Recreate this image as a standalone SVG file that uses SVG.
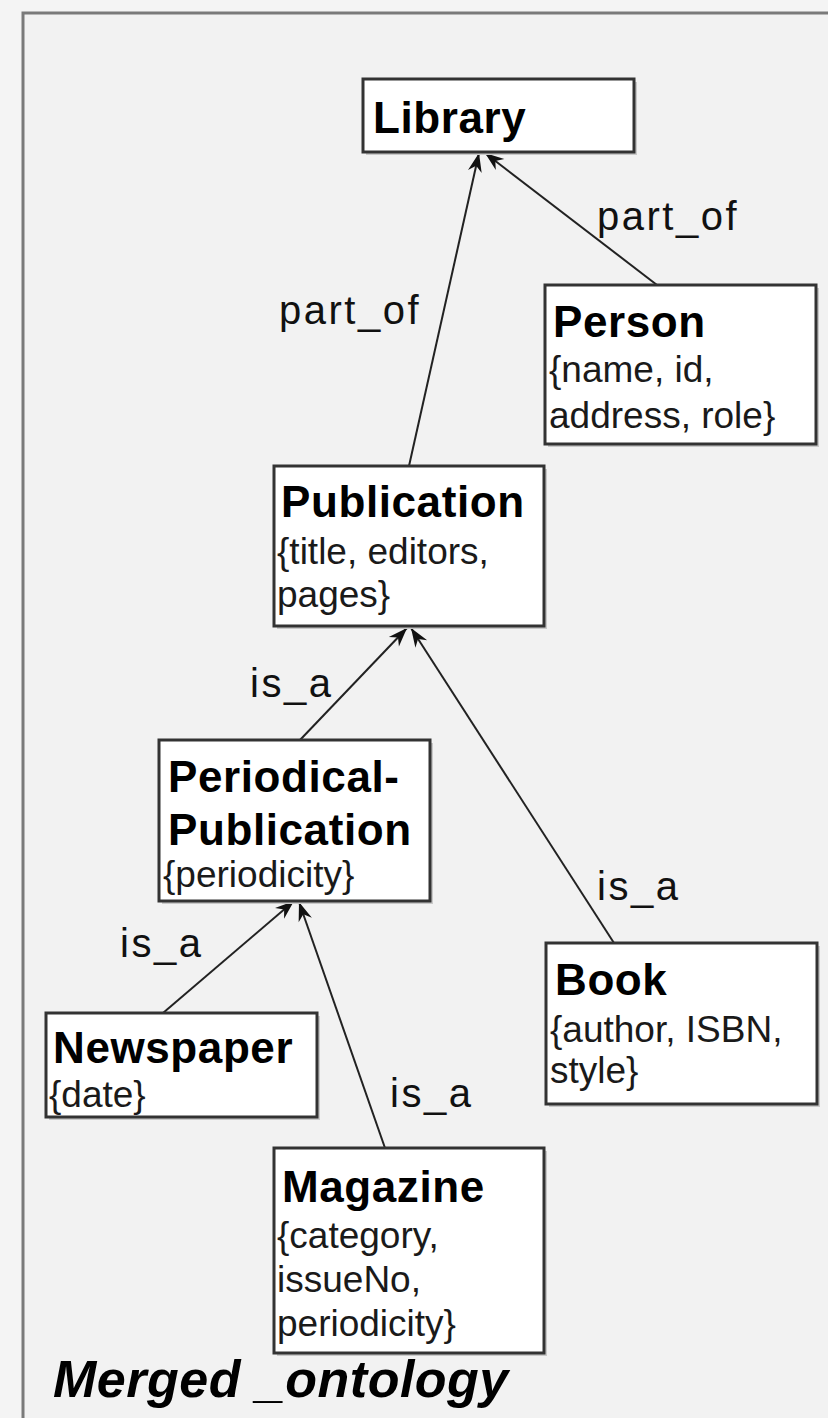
<svg xmlns="http://www.w3.org/2000/svg" width="828" height="1418" viewBox="0 0 828 1418">
  <style>
    .box { fill: #ffffff; stroke: #333333; stroke-width: 3; }
    .shadow { fill: #c9c9c9; }
    .title { font-family: "Liberation Sans", Arial, sans-serif; font-weight: bold; font-size: 44px; letter-spacing: 0.6px; fill: #000; }
    .attr { font-family: "Liberation Sans", Arial, sans-serif; font-size: 37px; fill: #1a1a1a; }
    .lbl { font-family: "Liberation Sans", Arial, sans-serif; font-size: 40px; letter-spacing: 2.5px; fill: #111; }
    .edge { stroke: #222222; stroke-width: 2; fill: none; marker-end: url(#arrow); }
    .caption { font-family: "Liberation Sans", Arial, sans-serif; font-weight: bold; font-style: italic; font-size: 52px; letter-spacing: 0.5px; fill: #000; }
  </style>
  <defs>
    <marker id="arrow" viewBox="-20 -8 22 16" refX="0" refY="0" markerWidth="22" markerHeight="16" markerUnits="userSpaceOnUse" orient="auto">
      <path d="M0,0 L-19,-7 L-13,0 L-19,7 Z" fill="#111"/>
    </marker>
  </defs>

  <!-- canvas and package frame -->
  <rect x="0" y="0" width="828" height="1418" fill="#f4f4f4"/>
  <rect x="23" y="13" width="830" height="1430" fill="#f2f2f2" stroke="#7a7a7a" stroke-width="3"/>

  <!-- relations -->
  <g id="connectors">
    <line class="edge" x1="409" y1="466" x2="479" y2="153"/>
    <line class="edge" x1="657" y1="285" x2="485" y2="153"/>
    <line class="edge" x1="300" y1="740" x2="407" y2="628"/>
    <line class="edge" x1="614" y1="943" x2="411" y2="628"/>
    <line class="edge" x1="163" y1="1013" x2="294" y2="901"/>
    <line class="edge" x1="385" y1="1148" x2="299" y2="902"/>
    <text class="lbl" x="597" y="230">part_of</text>
    <text class="lbl" x="279" y="324">part_of</text>
    <text class="lbl" x="250" y="697">is_a</text>
    <text class="lbl" x="597" y="900">is_a</text>
    <text class="lbl" x="120" y="957">is_a</text>
    <text class="lbl" x="390" y="1107">is_a</text>
  </g>

  <g id="library">
    <rect class="shadow" x="366" y="82" width="271" height="73"/>
    <rect class="box" x="363" y="79" width="271" height="73"/>
    <text class="title" x="373" y="133">Library</text>
  </g>

  <g id="person">
    <rect class="shadow" x="548" y="288" width="271" height="159"/>
    <rect class="box" x="545" y="285" width="271" height="159"/>
    <text class="title" x="553" y="337">Person</text>
    <text class="attr" x="549" y="382">{name, id,</text>
    <text class="attr" x="549" y="428">address, role}</text>
  </g>

  <g id="publication">
    <rect class="shadow" x="277" y="469" width="270" height="160"/>
    <rect class="box" x="274" y="466" width="270" height="160"/>
    <text class="title" x="281" y="517">Publication</text>
    <text class="attr" x="277" y="564">{title, editors,</text>
    <text class="attr" x="277" y="607">pages}</text>
  </g>

  <g id="periodical-publication">
    <rect class="shadow" x="162" y="743" width="271" height="161"/>
    <rect class="box" x="159" y="740" width="271" height="161"/>
    <text class="title" x="168" y="792">Periodical-</text>
    <text class="title" x="168" y="845">Publication</text>
    <text class="attr" x="163" y="887">{periodicity}</text>
  </g>

  <g id="newspaper">
    <rect class="shadow" x="49" y="1016" width="271" height="104"/>
    <rect class="box" x="46" y="1013" width="271" height="104"/>
    <text class="title" x="53" y="1063">Newspaper</text>
    <text class="attr" x="49" y="1107">{date}</text>
  </g>

  <g id="book">
    <rect class="shadow" x="549" y="946" width="271" height="161"/>
    <rect class="box" x="546" y="943" width="271" height="161"/>
    <text class="title" x="555" y="995">Book</text>
    <text class="attr" x="550" y="1042">{author, ISBN,</text>
    <text class="attr" x="550" y="1083">style}</text>
  </g>

  <g id="magazine">
    <rect class="shadow" x="277" y="1151" width="270" height="205"/>
    <rect class="box" x="274" y="1148" width="270" height="205"/>
    <text class="title" x="282" y="1202">Magazine</text>
    <text class="attr" x="277" y="1248">{category,</text>
    <text class="attr" x="277" y="1292">issueNo,</text>
    <text class="attr" x="277" y="1336">periodicity}</text>
  </g>

  <text class="caption" x="53" y="1397">Merged _ontology</text>
</svg>
